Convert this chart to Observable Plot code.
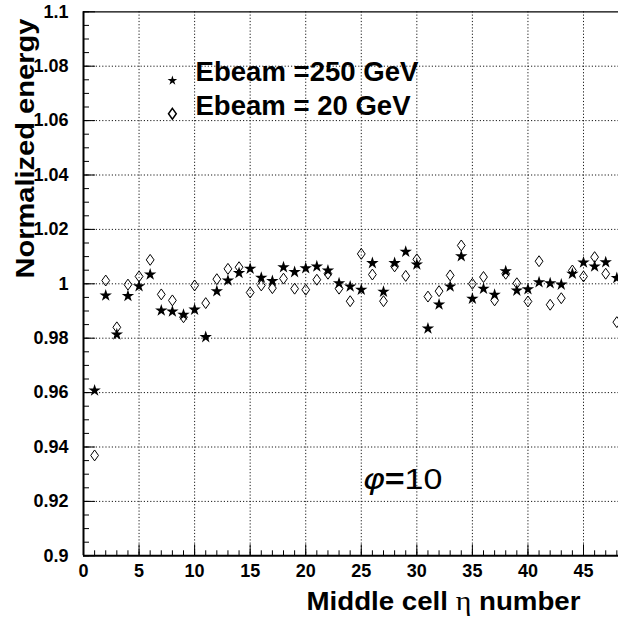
<!DOCTYPE html>
<html><head><meta charset="utf-8">
<script src="https://cdn.jsdelivr.net/npm/d3@7"></script>
<script src="https://cdn.jsdelivr.net/npm/@observablehq/plot@0.6"></script>
<style>html,body{margin:0;padding:0;background:#fff}</style>
</head><body><div id="chart"></div>
<script>
// ---- data ----
const cells = [1,2,3,4,5,6,7,8,9,10,11,12,13,14,15,16,17,18,19,20,21,22,23,24,25,26,27,28,29,30,31,32,33,34,35,36,37,38,39,40,41,42,43,44,45,46,47,48];
const e250 = [0.9608,0.9957,0.9814,0.9955,0.9991,1.0034,0.9902,0.9898,0.9886,0.9905,0.9804,0.9973,1.0012,1.0040,1.0055,1.0022,1.0010,1.0061,1.0043,1.0057,1.0064,1.0049,1.0002,0.9990,0.9978,1.0076,0.9971,1.0076,1.0118,1.0071,0.9836,0.9924,0.9990,1.0101,0.9945,0.9982,0.9960,1.0046,0.9975,0.9980,1.0006,1.0002,0.9997,1.0037,1.0078,1.0064,1.0079,1.0021];
const e20 = [0.9369,1.0012,0.9840,0.9997,1.0027,1.0088,0.9961,0.9939,0.9877,0.9994,0.9929,1.0017,1.0055,1.0061,0.9968,0.9994,0.9984,1.0019,0.9982,0.9978,1.0015,1.0037,0.9982,0.9936,1.0110,1.0034,0.9936,1.0064,1.0029,1.0090,0.9953,0.9973,1.0031,1.0141,1.0000,1.0025,0.9939,1.0037,1.0002,0.9935,1.0083,0.9923,0.9947,1.0049,1.0027,1.0098,1.0037,0.9859];
const xMajorTicks = [0,5,10,15,20,25,30,35,40,45];
const xTickLabels = ["0","5","10","15","20","25","30","35","40","45"];
const yMajorTicks = [0.9,0.92,0.94,0.96,0.98,1.0,1.02,1.04,1.06,1.08,1.1];
const yTickLabels = ["0.9","0.92","0.94","0.96","0.98","1","1.02","1.04","1.06","1.08","1.1"];
const legendLabels = ["Ebeam =250 GeV","Ebeam = 20 GeV"];
const xTitle = "Middle cell η number";
const yTitle = "Normalized energy";
const note = "φ=10";

const xMinorTicks = d3.range(0, 49, 1);
const yMinorTicks = d3.range(0, 41).map(i => +(0.9 + i * 0.005).toFixed(3));

const rows250 = cells.map((c, i) => ({cell: c, value: e250[i]}));
const rows20 = cells.map((c, i) => ({cell: c, value: e20[i]}));

const diamond = {draw(ctx, size) {
  const r = Math.sqrt(size / Math.PI);
  ctx.moveTo(0, -1.4 * r); ctx.lineTo(r, 0); ctx.lineTo(0, 1.4 * r); ctx.lineTo(-r, 0); ctx.closePath();
}};

const W = 618, H = 620, ML = 83, MR = 0, MT = 11.3, MB = 64.7;
const PW = W - ML - MR, PH = H - MT - MB;
const dash = "1.2,2";
const chart = Plot.plot({
  width: W, height: H,
  marginLeft: ML, marginRight: MR, marginTop: MT, marginBottom: MB,
  style: {fontFamily: "'Liberation Sans', Arial, sans-serif", fontSize: "18px", fontWeight: "bold", background: "#fff", color: "#000", overflow: "hidden"},
  x: {domain: [0, 48.15], label: null},
  y: {domain: [0.9, 1.1], label: null},
  marks: [
    Plot.gridX(xMajorTicks.slice(1), {stroke: "#000", strokeOpacity: 0.9, strokeDasharray: dash}),
    Plot.gridY(yMajorTicks.slice(1, -1), {stroke: "#000", strokeOpacity: 0.9, strokeDasharray: dash}),
    // inside ticks (ROOT style)
    Plot.ruleX(xMinorTicks, {x: d => d, insetTop: PH - 5, stroke: "#000", strokeWidth: 1}),
    Plot.ruleX(xMajorTicks, {x: d => d, insetTop: PH - 11, stroke: "#000", strokeWidth: 1}),
    Plot.ruleY(yMinorTicks, {y: d => d, insetRight: PW - 6, stroke: "#000", strokeWidth: 1}),
    Plot.ruleY(yMajorTicks, {y: d => d, insetRight: PW - 12, stroke: "#000", strokeWidth: 1}),
    Plot.axisX(xMajorTicks, {tickSize: 0, tickPadding: 8, tickFormat: (d, i) => xTickLabels[i], fontSize: 18, fontWeight: "bold", label: null}),
    Plot.axisY(yMajorTicks, {tickSize: 0, tickPadding: 15, tickFormat: (d, i) => yTickLabels[i], fontSize: 18, fontWeight: "bold", label: null}),
    Plot.ruleX([0], {strokeWidth: 2}),
    Plot.ruleY([0.9], {strokeWidth: 2}),
    Plot.ruleY([1.1], {strokeWidth: 1.2}),
    Plot.dot(rows20, {x: "cell", y: "value", symbol: diamond, r: 3.9, stroke: "#000", fill: "none", strokeWidth: 1}),
    Plot.dot(rows250, {x: "cell", y: "value", symbol: "star", r: 3.9, fill: "#000", stroke: "none"}),
    // legend
    Plot.dot([legendLabels[0]], {x: () => 8, y: () => 1.0747, symbol: "star", r: 3, fill: "#000", stroke: "none"}),
    Plot.dot([legendLabels[1]], {x: () => 8, y: () => 1.0625, symbol: diamond, r: 3.9, stroke: "#000", fill: "none"}),
    Plot.text(legendLabels, {x: () => 10.08, y: [1.0745, 1.0622], text: d => d, textAnchor: "start", lineAnchor: "bottom", fontSize: 28, fontWeight: "bold"}),
    // annotation
    Plot.text([note], {x: () => 25.1, y: () => 0.9247, text: d => d, textAnchor: "start", lineAnchor: "bottom", fontSize: 29, fontWeight: "normal"}),
    // axis titles
    Plot.text([xTitle], {x: () => 44.73, y: () => 0.8801, text: d => d, textAnchor: "end", lineAnchor: "bottom", fontSize: 25, fontWeight: "bold"}),
    Plot.text([yTitle], {x: () => -4.5, y: () => 1.0975, text: d => d, rotate: -90, textAnchor: "end", lineAnchor: "bottom", fontSize: 25, fontWeight: "bold"})
  ]
});
document.getElementById("chart").appendChild(chart);

// typographic touches
const svg = d3.select(chart.tagName.toLowerCase() === "svg" ? chart : chart.querySelector("svg"));
svg.selectAll("text").each(function() {
  const t = this.textContent, s = d3.select(this);
  if (t === yTitle) s.attr("textLength", 260).attr("lengthAdjust", "spacingAndGlyphs");
  else if (t === legendLabels[0]) s.attr("textLength", 223).attr("lengthAdjust", "spacingAndGlyphs");
  else if (t === legendLabels[1]) s.attr("textLength", 215).attr("lengthAdjust", "spacingAndGlyphs");
  else if (t === xTitle) {
    const parts = xTitle.split("η");
    s.text(null);
    s.append("tspan").text(parts[0]);
    s.append("tspan").attr("font-family", "'Liberation Serif', 'DejaVu Serif', serif").attr("font-weight", "normal").attr("font-size", 27).text("η");
    s.append("tspan").text(parts[1]);
    s.attr("textLength", 274).attr("lengthAdjust", "spacingAndGlyphs");
  } else if (t === note) {
    s.text(null);
    s.append("tspan").attr("font-family", "'DejaVu Sans', sans-serif").attr("font-style", "italic").text("φ");
    s.append("tspan").attr("font-weight", "bold").text("=");
    s.append("tspan").text("10");
    s.attr("textLength", 80).attr("lengthAdjust", "spacingAndGlyphs");
  }
});
</script>
</body></html>
